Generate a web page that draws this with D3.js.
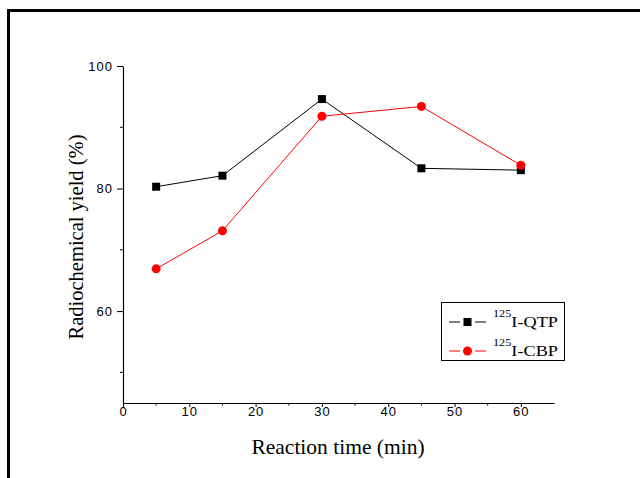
<!DOCTYPE html>
<html>
<head>
<meta charset="utf-8">
<script src="https://cdn.jsdelivr.net/npm/d3@7"></script>
<style>
  body { margin: 0; background: #fff; }
  svg { display: block; }
</style>
</head>
<body>
<svg id="chart" width="640" height="478"></svg>
<script>
// reaction time (min)
var times = [5, 15, 30, 45, 60];
// radiochemical yield (%)
var qtp = [80.3, 82.1, 94.6, 83.3, 83.0];
var cbp = [66.9, 73.1, 91.8, 93.4, 83.8];
var xTicks = [0, 10, 20, 30, 40, 50, 60];
var yTicks = [60, 80, 100];
var seriesNames = ["I-QTP", "I-CBP"];

var svg = d3.select("#chart");

// outer frame (only top and left visible)
svg.append("path")
  .attr("d", "M8.5,478 V10.5 H640")
  .attr("fill", "none")
  .attr("stroke", "#000")
  .attr("stroke-width", 3);

var x = d3.scaleLinear().domain([0, 65]).range([123, 554]);
var y = d3.scaleLinear().domain([45, 100]).range([403, 66]);

// x axis
var gx = svg.append("g").attr("transform", "translate(0,403)");
gx.call(d3.axisBottom(x).tickValues(xTicks).tickSize(4).tickSizeOuter(0).tickPadding(0));
gx.selectAll(".minor").data(d3.range(5, 65, 10)).enter().append("line")
  .attr("x1", x).attr("x2", x).attr("y1", 0).attr("y2", 2.5)
  .attr("stroke", "#000");

// y axis
var gy = svg.append("g").attr("transform", "translate(123,0)");
gy.call(d3.axisLeft(y).tickValues(yTicks).tickSize(6).tickSizeOuter(0).tickPadding(4));
gy.selectAll(".minor").data([50, 70, 90]).enter().append("line")
  .attr("y1", y).attr("y2", y).attr("x1", 0).attr("x2", -3)
  .attr("stroke", "#000");

svg.selectAll(".domain").attr("stroke-width", 1.2);
svg.selectAll(".tick text")
  .attr("font-family", "Liberation Sans, Arial, sans-serif")
  .attr("font-size", 13)
  .attr("letter-spacing", 1)
  .attr("fill", "#000");

// axis titles
svg.append("text")
  .attr("x", 338).attr("y", 454)
  .attr("text-anchor", "middle")
  .attr("font-family", "Liberation Serif, Times New Roman, serif")
  .attr("font-size", 21.5)
  .text("Reaction time (min)");

svg.append("text")
  .attr("transform", "translate(83,237) rotate(-90)")
  .attr("text-anchor", "middle")
  .attr("font-family", "Liberation Serif, Times New Roman, serif")
  .attr("font-size", 20.5)
  .text("Radiochemical yield (%)");

var line = d3.line()
  .x(function (d, i) { return x(times[i]); })
  .y(function (d) { return y(d); });

// QTP series
svg.append("path").datum(qtp)
  .attr("d", line).attr("fill", "none").attr("stroke", "#000").attr("stroke-width", 1);
svg.selectAll(".sq").data(qtp).enter().append("rect")
  .attr("x", function (d, i) { return x(times[i]) - 4; })
  .attr("y", function (d) { return y(d) - 4; })
  .attr("width", 8).attr("height", 8)
  .attr("fill", "#000");

// CBP series
svg.append("path").datum(cbp)
  .attr("d", line).attr("fill", "none").attr("stroke", "#f00").attr("stroke-width", 1);
svg.selectAll(".ci").data(cbp).enter().append("circle")
  .attr("cx", function (d, i) { return x(times[i]); })
  .attr("cy", function (d) { return y(d); })
  .attr("r", 4.5)
  .attr("fill", "#f00");

// legend
var lg = svg.append("g");
lg.append("rect")
  .attr("x", 441.5).attr("y", 302.5).attr("width", 123).attr("height", 58)
  .attr("fill", "#fff").attr("stroke", "#000").attr("stroke-width", 1);
var colors = ["#000", "#f00"];
seriesNames.forEach(function (name, i) {
  var yy = 322 + i * 29;
  lg.append("line").attr("x1", 449).attr("x2", 460).attr("y1", yy).attr("y2", yy)
    .attr("stroke", colors[i]).attr("stroke-width", 1);
  lg.append("line").attr("x1", 475).attr("x2", 486).attr("y1", yy).attr("y2", yy)
    .attr("stroke", colors[i]).attr("stroke-width", 1);
  if (i === 0) {
    lg.append("rect").attr("x", 463.5).attr("y", yy - 4).attr("width", 8).attr("height", 8).attr("fill", colors[i]);
  } else {
    lg.append("circle").attr("cx", 467.5).attr("cy", yy).attr("r", 4.5).attr("fill", colors[i]);
  }
  var t = lg.append("text")
    .attr("transform", "translate(493," + (yy + 5) + ") scale(1.22,1)")
    .attr("font-family", "Liberation Serif, Times New Roman, serif")
    .attr("font-size", 15);
  t.append("tspan").attr("font-size", 10).attr("dy", -10).text("125");
  t.append("tspan").attr("dy", 10).text(name);
});
</script>
</body>
</html>
